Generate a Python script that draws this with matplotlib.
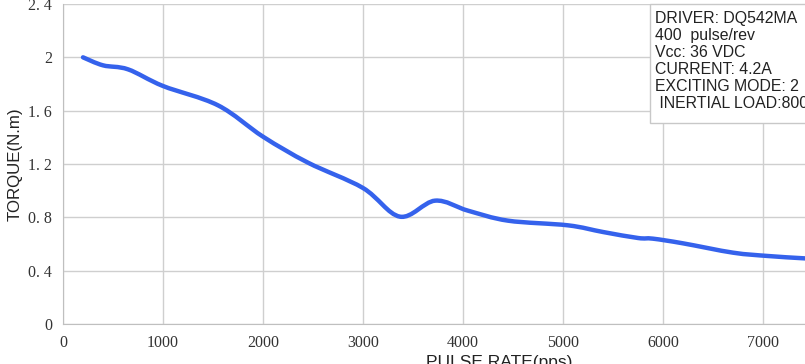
import numpy as np
import matplotlib
matplotlib.use("Agg")
import matplotlib.pyplot as plt
from matplotlib.path import Path
from matplotlib.patches import PathPatch, Rectangle

# torque curve
pulse_rate = [200, 400, 650, 1000, 1550, 2000, 2450, 3000, 3370, 3720, 4050,
              4450, 5050, 5400, 5750, 5900, 6200, 6700, 7050, 7400, 7700]
torque = [2.0, 1.94, 1.91, 1.785, 1.64, 1.405, 1.21, 1.02, 0.805, 0.925, 0.85,
          0.775, 0.74, 0.69, 0.645, 0.64, 0.605, 0.535, 0.51, 0.493, 0.48]

y_ticks = [0, 0.4, 0.8, 1.2, 1.6, 2.0, 2.4]
y_tick_labels = ["0", "0. 4", "0. 8", "1. 2", "1. 6", "2", "2. 4"]
x_ticks = [0, 1000, 2000, 3000, 4000, 5000, 6000, 7000, 8000]

info_lines = ["DRIVER: DQ542MA", "400  pulse/rev", "Vcc: 36 VDC",
              "CURRENT: 4.2A", "EXCITING MODE: 2", " INERTIAL LOAD:800"]

W, H = 805, 364
fig = plt.figure(figsize=(W / 100, H / 100), dpi=100)
ax = fig.add_axes([63 / W, 40 / H, 872 / W, 320 / H])


def smooth_path(xs, ys, t=1 / 6):
    # Catmull-Rom style bezier through the points (like a spreadsheet smoothed line)
    pts = np.column_stack([xs, ys])
    verts = [pts[0]]
    codes = [Path.MOVETO]
    n = len(pts)
    for i in range(n - 1):
        p0 = pts[max(i - 1, 0)]
        p1 = pts[i]
        p2 = pts[i + 1]
        p3 = pts[min(i + 2, n - 1)]
        c1 = p1 + (p2 - p0) * t
        c2 = p2 - (p3 - p1) * t
        verts += [c1, c2, p2]
        codes += [Path.CURVE4] * 3
    return Path(verts, codes)


ax.add_patch(PathPatch(smooth_path(pulse_rate, torque), fill=False,
                       edgecolor="#3562ec", lw=3.2, capstyle="round", zorder=3))

ax.set_xlim(0, 8720)
ax.set_ylim(0, 2.4)
ax.set_xticks(x_ticks)
ax.set_yticks(y_ticks)
ax.set_yticklabels(y_tick_labels)
ax.grid(True, color="#cfcfcf", lw=1)
for s in ["top", "right"]:
    ax.spines[s].set_visible(False)
for s in ["left", "bottom"]:
    ax.spines[s].set_color("#bfbfbf")
ax.tick_params(length=0, labelsize=11.5, colors="#333333", pad=8)
for lab in ax.get_xticklabels() + ax.get_yticklabels():
    lab.set_family("Liberation Serif")

ax.set_xlabel("PULSE RATE(pps)", family="Liberation Sans", fontsize=12.5,
              color="#222222", labelpad=3)
ax.set_ylabel("TORQUE(N.m)", family="Liberation Sans", fontsize=12.2,
              color="#222222", labelpad=4)

# info box in the top right corner
fig.patches.append(Rectangle((650 / W, 1 - 123 / H), 200 / W, 119 / H,
                             transform=fig.transFigure, facecolor="white",
                             edgecolor="#c8c8c8", lw=1, zorder=5))
for i, line in enumerate(info_lines):
    fig.text(655 / W, 1 - (19 + 16.8 * i) / H, line, family="Liberation Sans",
             fontsize=11.4, color="#222222", va="center", ha="left", zorder=6)

fig.savefig("out.png", dpi=100)
